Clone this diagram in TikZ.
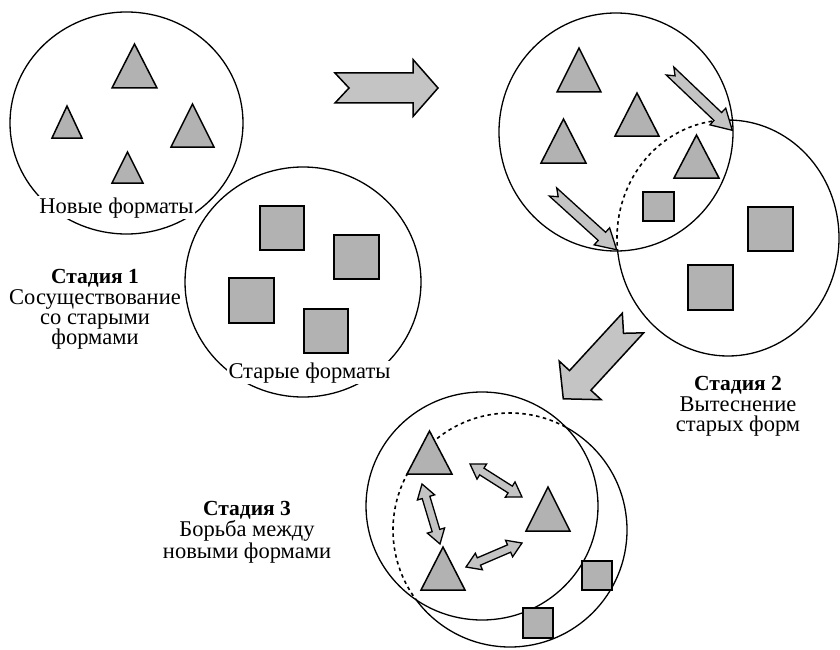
\documentclass[tikz,border=0pt]{standalone}
\usepackage{fontspec}
\setmainfont{Liberation Serif}
\definecolor{shapegray}{gray}{0.70}
\definecolor{arrowgray}{gray}{0.77}
\tikzset{
  ring/.style={line width=1.3pt},
  hid/.style={line width=1.6pt,dash pattern=on 3.5pt off 3.5pt},
  shp/.style={draw=black,line width=1.5pt,fill=shapegray,line join=miter},
  bigarr/.style={draw=black,line width=1.5pt,fill=arrowgray,line join=miter},
  smallarr/.style={draw=black,line width=1.3pt,fill=arrowgray,line join=miter},
  lbl/.style={font=\fontsize{22.5}{22}\selectfont,inner sep=1.5pt,fill=white,anchor=base},
  txtn/.style={font=\fontsize{22.5}{22}\selectfont,inner sep=0pt,anchor=base},
  txtb/.style={font=\fontsize{21.5}{22}\selectfont\bfseries,inner sep=0pt,anchor=base},
  pics/notched/.style args={#1/#2/#3/#4/#5}{code={%
    \path[pic actions] (0,#2) -- (#1-#4,#2) -- (#1-#4,#3) -- (#1,0) -- (#1-#4,-#3)
      -- (#1-#4,-#2) -- (0,-#2) -- (#5,0) -- cycle;}},
  pics/dblarrow/.style args={#1/#2/#3/#4}{code={%
    \path[pic actions] (0,0) -- (#4,#3) -- (#4,#2) -- (#1-#4,#2) -- (#1-#4,#3) -- (#1,0)
      -- (#1-#4,-#3) -- (#1-#4,-#2) -- (#4,-#2) -- (#4,-#3) -- cycle;}},
}
\begin{document}
\begin{tikzpicture}[x=1pt,y=-1pt]
\useasboundingbox[fill=white] (0,0) rectangle (840,650);

% ---------------- Stage 1 ----------------
\draw[ring] (126.5,123) ellipse [x radius=116.5pt, y radius=111pt];
\draw[ring] (303,282) ellipse [x radius=118pt, y radius=115pt];
% triangles (new formats)
\draw[shp] (134.5,44) -- (157,88) -- (112,88) -- cycle;
\draw[shp] (67,106) -- (82,138) -- (52,138) -- cycle;
\draw[shp] (192.5,104) -- (214,147) -- (171,147) -- cycle;
\draw[shp] (127.5,152) -- (143,183) -- (112,183) -- cycle;
% squares (old formats)
\draw[shp] (260,206) rectangle (304,250);
\draw[shp] (334,235) rectangle (379,279);
\draw[shp] (229,278) rectangle (274,323);
\draw[shp] (304,309) rectangle (348,353);
\node[lbl] (newf) at (116.5,213) {Новые форматы};
\node[lbl] (oldf) at (309.5,378) {Старые форматы};
\node[txtb] (s1a) at (95,283) {Стадия 1};
\node[txtn] (s1b) at (95,304) {Сосуществование};
\node[txtn] (s1c) at (95,324.5) {со старыми};
\node[txtn] (s1d) at (95,344.5) {формами};

% big arrow 1
\pic[bigarr] at (335,88) {notched={103/15/28.5/25/14}};

% ---------------- Stage 2 ----------------
\draw[ring] (728,238) ellipse [x radius=111pt, y radius=118pt];
\fill[white] (616,132) ellipse [x radius=117pt, y radius=119pt];
\draw[ring] (616,132) ellipse [x radius=117pt, y radius=119pt];
\begin{scope}
  \clip (616,132) ellipse [x radius=117pt, y radius=119pt];
  \draw[hid] (728,238) ellipse [x radius=111pt, y radius=118pt];
\end{scope}
\draw[shp] (579,48) -- (601,92) -- (557,92) -- cycle;
\draw[shp] (637,93) -- (659,136) -- (615,136) -- cycle;
\draw[shp] (563.5,119) -- (586,163) -- (541,163) -- cycle;
\draw[shp] (696.5,135) -- (719,178) -- (674,178) -- cycle;
\draw[shp] (643,192) rectangle (674,221);
\draw[shp] (748,207) rectangle (793,251);
\draw[shp] (688,265) rectangle (733,310);
% small arrows
\pic[smallarr,rotate=-43.6] at (670,71) {notched={86/5.5/11.5/20/7}};
\pic[smallarr,rotate=-42.2] at (553,192) {notched={86/5.5/11.5/20/7}};
\node[txtb] (s2a) at (738,390) {Стадия 2};
\node[txtn] (s2b) at (738,411) {Вытеснение};
\node[txtn] (s2c) at (738,431) {старых форм};

% big arrow 2
\pic[bigarr,rotate=-132.6] at (633,323) {notched={103/14.5/28.5/25/14}};

% ---------------- Stage 3 ----------------
\draw[ring] (510,530) ellipse [x radius=117pt, y radius=117pt];
\fill[white] (482,506) ellipse [x radius=116pt, y radius=114pt];
\draw[ring] (482,506) ellipse [x radius=116pt, y radius=114pt];
\begin{scope}
  \clip (482,506) ellipse [x radius=116pt, y radius=114pt];
  \draw[hid] (510,530) ellipse [x radius=117pt, y radius=117pt];
\end{scope}
\draw[shp] (429.5,431) -- (452,474) -- (407,474) -- cycle;
\draw[shp] (548,487) -- (570,531) -- (526,531) -- cycle;
\draw[shp] (443,547) -- (465,590) -- (421,590) -- cycle;
\draw[shp] (582,561) rectangle (612,590);
\draw[shp] (523,608) rectangle (553,638);
% double arrows
\pic[smallarr,rotate=-32.4] at (470,464) {dblarrow={61.6/4/9/14}};
\pic[smallarr,rotate=-73.3] at (422,484) {dblarrow={62.6/4/9/14}};
\pic[smallarr,rotate=23.2] at (466,567) {dblarrow={60.9/4/9/14}};
\node[txtb] (s3a) at (247,515) {Стадия 3};
\node[txtn] (s3b) at (247,536.5) {Борьба между};
\node[txtn] (s3c) at (247,558) {новыми формами};
\end{tikzpicture}
\end{document}
